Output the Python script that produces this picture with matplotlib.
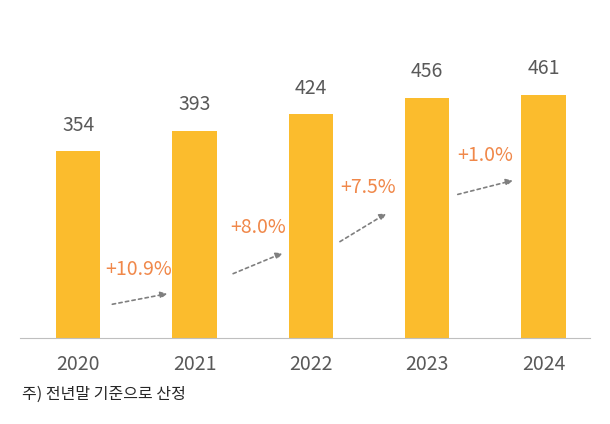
import numpy as np
from matplotlib import pyplot as plt

plt.rcParams['font.family'] = ['Noto Sans CJK KR', 'Noto Sans CJK JP', 'Noto Sans CJK SC', 'DejaVu Sans']

years = ['2020', '2021', '2022', '2023', '2024']
values = [354, 393, 424, 456, 461]
growth = ['+10.9%', '+8.0%', '+7.5%', '+1.0%']
# arrow start/end (x, y) in data coords and label positions
arrow_x0 = [0.27, 1.31, 2.23, 3.24]
arrow_x1 = [0.79, 1.78, 2.67, 3.76]
arrow_y0 = [63, 120, 180, 271]
arrow_y1 = [85, 163, 239, 300]
label_x = [0.52, 1.55, 2.49, 3.5]
label_y = [129, 210, 286, 347]

W, H = 610, 424
fig = plt.figure(figsize=(W/100, H/100), dpi=100)
ax = fig.add_axes([20/W, (H-338)/H, 570/W, 338/H])

x = np.arange(len(years))
ax.bar(x, values, width=0.38, color='#FBBC2D', zorder=2)
ax.set_xlim(-0.5, 4.4)
ax.set_ylim(0, 641)

for xi, v in zip(x, values):
    ax.text(xi, v + 30, str(v), ha='center', va='bottom', fontsize=14, color='#595959')
    ax.text(xi, -30, years[xi], ha='center', va='top', fontsize=14, color='#595959')

for k in range(len(growth)):
    ax.annotate('', xy=(arrow_x1[k], arrow_y1[k]), xytext=(arrow_x0[k], arrow_y0[k]),
                arrowprops=dict(arrowstyle='-|>', color='#7f7f7f', linestyle=(0, (2, 2)),
                                lw=1.2, mutation_scale=10))
    ax.text(label_x[k], label_y[k], growth[k], ha='center', va='center', fontsize=14, color='#F0884A')

for s in ['top', 'right', 'left']:
    ax.spines[s].set_visible(False)
ax.spines['bottom'].set_color('#bfbfbf')
ax.set_xticks([])
ax.set_yticks([])

fig.text(22/W, 1 - 394/H, '주) 전년말 기준으로 산정', fontsize=11.5, color='#262626', va='center')

plt.savefig('out.png', dpi=100)
